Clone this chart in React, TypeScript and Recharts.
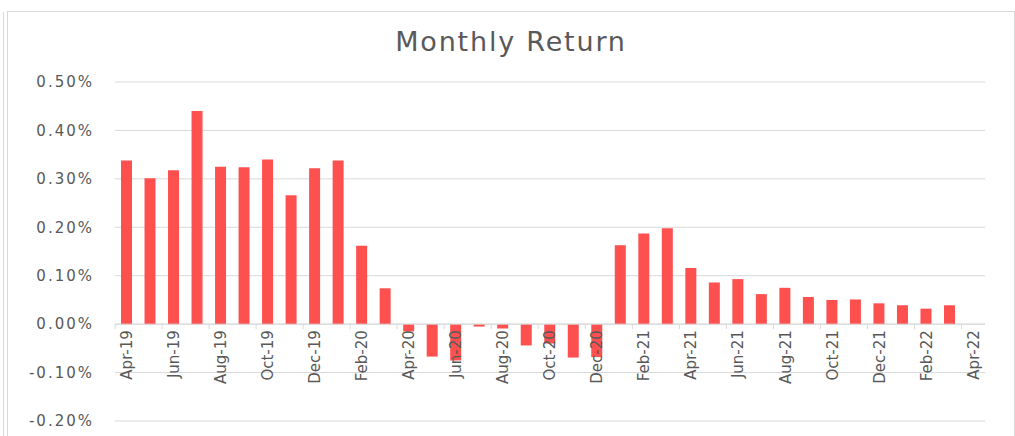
import { BarChart, Bar, XAxis, YAxis, CartesianGrid, ReferenceLine } from 'recharts'

const months = [
  'Apr-19', 'May-19', 'Jun-19', 'Jul-19', 'Aug-19', 'Sep-19', 'Oct-19', 'Nov-19', 'Dec-19',
  'Jan-20', 'Feb-20', 'Mar-20', 'Apr-20', 'May-20', 'Jun-20', 'Jul-20', 'Aug-20', 'Sep-20',
  'Oct-20', 'Nov-20', 'Dec-20', 'Jan-21', 'Feb-21', 'Mar-21', 'Apr-21', 'May-21', 'Jun-21',
  'Jul-21', 'Aug-21', 'Sep-21', 'Oct-21', 'Nov-21', 'Dec-21', 'Jan-22', 'Feb-22', 'Mar-22',
  'Apr-22',
]

// monthly return in percent
const returns: (number | null)[] = [
  0.338, 0.301, 0.318, 0.44, 0.325, 0.324, 0.34, 0.266, 0.322,
  0.338, 0.162, 0.074, -0.015, -0.067, -0.075, -0.005, -0.009, -0.044,
  -0.04, -0.069, -0.068, 0.163, 0.187, 0.198, 0.116, 0.086, 0.093,
  0.062, 0.075, 0.056, 0.05, 0.051, 0.043, 0.039, 0.032, 0.039,
  null,
]

const yTicks = [-0.2, -0.1, 0, 0.1, 0.2, 0.3, 0.4, 0.5]

const data = months.map((m, i) => ({ month: m, value: returns[i] }))

const W = 1015
const H = 436
const TOP = 82
const BOTTOM = 421
const LEFT = 115
const RIGHT = 985
const Y_MIN = -0.2
const Y_MAX = 0.5
const zeroY = TOP + ((Y_MAX - 0) / (Y_MAX - Y_MIN)) * (BOTTOM - TOP)
const band = (RIGHT - LEFT) / months.length

const INK = '#595959'
const GRID = '#d9d9d9'
const FONT = '"DejaVu Sans", sans-serif'

const chartMargin = { top: TOP, bottom: H - BOTTOM - 1, left: 0, right: W - RIGHT }

function MonthTick(props: any) {
  const { x, index, payload } = props
  if (index % 2 !== 0) return <g />
  const edge = x - band / 2
  return (
    <g>
      <line x1={edge} x2={edge} y1={zeroY} y2={zeroY + 5} stroke={GRID} />
      <text
        x={x}
        y={zeroY + 6}
        transform={`rotate(-90, ${x}, ${zeroY + 6})`}
        textAnchor="end"
        dy="0.36em"
        fill={INK}
        fontSize={15}
        fontFamily={FONT}
      >
        {payload.value}
      </text>
    </g>
  )
}

export default function App() {
  return (
    <div style={{ position: 'absolute', left: 0, top: 0, width: W, height: H, background: '#fff', overflow: 'hidden' }}>
      <div style={{ position: 'absolute', left: 3, top: 12, width: 1, height: H, background: GRID }} />
      <div style={{ position: 'absolute', left: 7, top: 11, width: 1006, height: H, border: `1px solid ${GRID}`, borderBottom: 'none' }} />
      <div
        style={{
          position: 'absolute', left: 0, width: 1022, top: 26, textAlign: 'center',
          fontFamily: FONT, fontSize: 27, letterSpacing: 1.8, color: INK,
        }}
      >
        Monthly Return
      </div>
      <BarChart width={W} height={H} data={data} margin={chartMargin} style={{ position: 'absolute', left: 0, top: 0 }}>
        <CartesianGrid vertical={false} stroke={GRID} />
        <YAxis
          width={LEFT}
          domain={[Y_MIN, Y_MAX]}
          ticks={yTicks}
          axisLine={false}
          tickLine={false}
          tickSize={0}
          tickMargin={21}
          tickFormatter={(v: number) => `${v.toFixed(2)}%`}
          tick={{ fill: INK, fontSize: 15, fontFamily: FONT, letterSpacing: 2 }}
        />
        <XAxis dataKey="month" interval={0} height={1} axisLine={false} tickLine={false} tick={false} />
        <ReferenceLine y={0} stroke={GRID} />
        <Bar dataKey="value" fill="#ff5050" barSize={11} isAnimationActive={false} />
      </BarChart>
      {/* month labels overlay, drawn above the bars like in the spreadsheet */}
      <BarChart width={W} height={H} data={data} margin={chartMargin} style={{ position: 'absolute', left: 0, top: 0 }}>
        <YAxis width={LEFT} domain={[Y_MIN, Y_MAX]} ticks={yTicks} axisLine={false} tickLine={false} tick={false} />
        <XAxis
          dataKey="month"
          interval={0}
          height={1}
          axisLine={false}
          tickLine={false}
          tick={(p: any) => <MonthTick {...p} />}
        />
        <Bar dataKey="value" fill="none" barSize={11} isAnimationActive={false} />
      </BarChart>
    </div>
  )
}
